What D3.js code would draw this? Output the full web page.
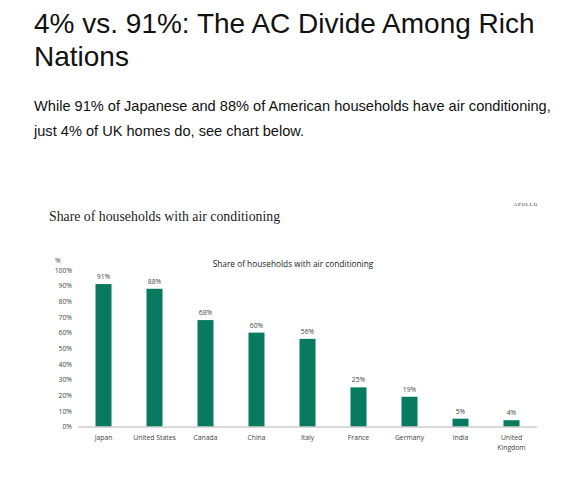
<!DOCTYPE html>
<html>
<head>
<meta charset="utf-8">
<script src="https://cdn.jsdelivr.net/npm/d3@7"></script>
<style>
  body { margin: 0; background: #fff; }
  svg { display: block; }
</style>
</head>
<body>
<svg id="chart" width="583" height="483"></svg>
<script>
// dati
var paesi = ["Japan", "United States", "Canada", "China", "Italy", "France", "Germany", "India", "United Kingdom"];
var quote = [91, 88, 68, 60, 56, 25, 19, 5, 4];
var tickY = [0, 10, 20, 30, 40, 50, 60, 70, 80, 90, 100];

var titolo = ["4% vs. 91%: The AC Divide Among Rich", "Nations"];
var sottotitolo = ["While 91% of Japanese and 88% of American households have air conditioning,",
                   "just 4% of UK homes do, see chart below."];

var verde = "#077a60";

var svg = d3.select("#chart");

// intestazione
svg.append("g").selectAll("text")
    .data(titolo)
    .enter()
    .append("text")
    .attr("x", 34)
    .attr("y", (d, i) => 33 + i * 32.5)
    .style("font-family", "Arial, 'Liberation Sans', sans-serif")
    .style("font-size", "28px")
    .attr("fill", "#111")
    .text(d => d);

svg.append("g").selectAll("text")
    .data(sottotitolo)
    .enter()
    .append("text")
    .attr("x", 34)
    .attr("y", (d, i) => 111 + i * 25)
    .style("font-family", "Arial, 'Liberation Sans', sans-serif")
    .style("font-size", "14.6px")
    .attr("fill", "#111")
    .text(d => d);

// titolo del grafico (serif) e marchio
svg.append("text")
    .attr("x", 49)
    .attr("y", 221)
    .style("font-family", "'Liberation Serif', 'DejaVu Serif', serif")
    .style("font-size", "13.8px")
    .attr("fill", "#222")
    .text("Share of households with air conditioning");

svg.append("text")
    .attr("x", 538)
    .attr("y", 206)
    .style("text-anchor", "end")
    .style("font-family", "'Liberation Serif', serif")
    .style("font-size", "5px")
    .style("letter-spacing", "0.8px")
    .attr("fill", "#333")
    .text("APOLLO");

// scale
var x = d3.scaleBand()
    .domain(paesi)
    .range([78, 537])
    .paddingInner(0.686)
    .paddingOuter(0.343);

var y = d3.scaleLinear()
    .domain([0, 100])
    .range([426.5, 270]);

var fontPiccolo = "'Open Sans', 'Noto Sans', sans-serif";

// titolo interno
svg.append("text")
    .attr("x", 293)
    .attr("y", 267)
    .style("text-anchor", "middle")
    .style("font-family", fontPiccolo)
    .style("font-size", "8.3px")
    .attr("fill", "#222")
    .text("Share of households with air conditioning");

svg.append("text")
    .attr("x", 55)
    .attr("y", 263)
    .style("font-family", fontPiccolo)
    .style("font-size", "6.8px")
    .attr("fill", "#444")
    .text("%");

// asse y (solo etichette)
var assey = svg.append("g")
    .attr("transform", "translate(72,0)")
    .call(d3.axisLeft(y).tickValues(tickY).tickSize(0).tickPadding(0).tickFormat(d => d + "%"));
assey.select(".domain").remove();
assey.selectAll("text")
    .style("font-family", fontPiccolo)
    .style("font-size", "6.8px")
    .attr("fill", "#444");

// barre
svg.append("g").selectAll("rect")
    .data(quote)
    .enter()
    .append("rect")
    .attr("x", (d, i) => x(paesi[i]))
    .attr("y", d => y(d))
    .attr("width", x.bandwidth())
    .attr("height", d => y(0) - y(d))
    .attr("fill", verde);

// etichette valori
svg.append("g").selectAll("text")
    .data(quote)
    .enter()
    .append("text")
    .attr("x", (d, i) => x(paesi[i]) + x.bandwidth() / 2)
    .attr("y", d => y(d) - 5)
    .style("text-anchor", "middle")
    .style("font-family", fontPiccolo)
    .style("font-size", "6.8px")
    .attr("fill", "#444")
    .text(d => d + "%");

// asse x
svg.append("line")
    .attr("x1", 78)
    .attr("x2", 537)
    .attr("y1", y(0) + 0.5)
    .attr("y2", y(0) + 0.5)
    .attr("stroke", "#b5b5b5")
    .attr("stroke-width", 1);

var etichette = svg.append("g").selectAll("text")
    .data(paesi)
    .enter()
    .append("text")
    .attr("x", d => x(d) + x.bandwidth() / 2)
    .attr("y", 440)
    .style("text-anchor", "middle")
    .style("font-family", fontPiccolo)
    .style("font-size", "6.8px")
    .attr("fill", "#444");

etichette.each(function(d){
    var parole = d == "United Kingdom" ? ["United", "Kingdom"] : [d];
    d3.select(this).selectAll("tspan")
        .data(parole)
        .enter()
        .append("tspan")
        .attr("x", x(d) + x.bandwidth() / 2)
        .attr("dy", (p, i) => i == 0 ? 0 : 9.5)
        .text(p => p);
});
</script>
</body>
</html>
